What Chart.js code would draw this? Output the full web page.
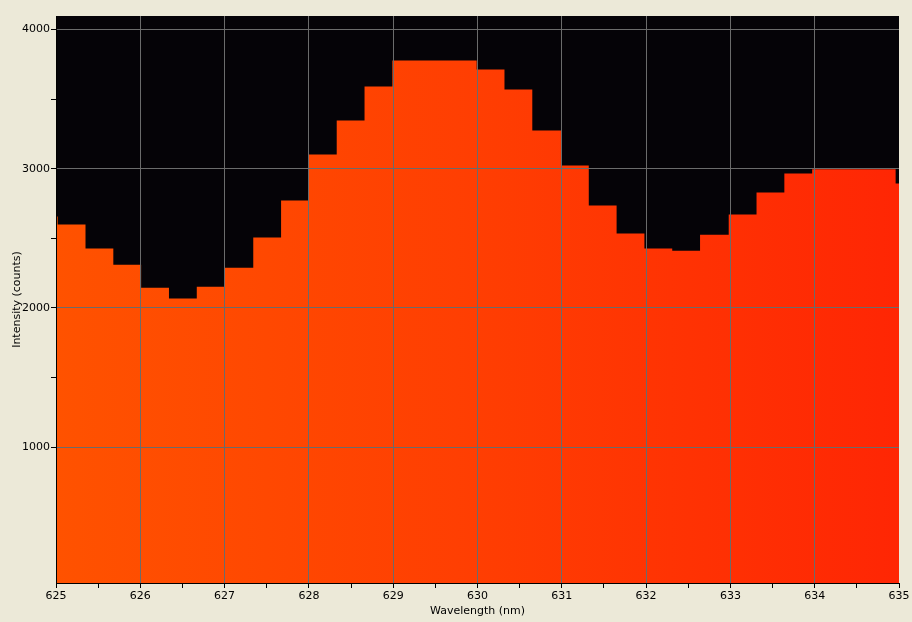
<!DOCTYPE html>
<html>
<head>
<meta charset="utf-8">
<script src="https://cdn.jsdelivr.net/npm/chart.js@4/dist/chart.umd.min.js"></script>
<style>
  html, body { margin: 0; padding: 0; background: #ECE9D8; }
  canvas { display: block; }
</style>
</head>
<body>
<canvas id="c" width="912" height="622"></canvas>
<script>
// Bin left edges (nm) and intensities (counts)
const wavelengths = [624.68, 625.02, 625.35, 625.68, 626.01, 626.34, 626.67, 627.00, 627.34, 627.67,
  628.00, 628.33, 628.66, 628.99, 629.33, 629.66, 629.99, 630.32, 630.65, 630.99,
  631.32, 631.65, 631.98, 632.31, 632.64, 632.98, 633.31, 633.64, 633.97, 634.30,
  634.63, 634.96, 635.29];
const intensities = [2657, 2599, 2427, 2311, 2146, 2069, 2153, 2290, 2506, 2772,
  3103, 3347, 3592, 3779, 3779, 3779, 3714, 3570, 3275, 3024,
  2736, 2535, 2427, 2412, 2527, 2671, 2830, 2967, 2996, 2996,
  2996, 2895, 2895];
const xTicks = [625, 625.5, 626, 626.5, 627, 627.5, 628, 628.5, 629, 629.5, 630, 630.5,
  631, 631.5, 632, 632.5, 633, 633.5, 634, 634.5, 635];
const xLabels = [625, 626, 627, 628, 629, 630, 631, 632, 633, 634, 635];
const yTicks = [1000, 1500, 2000, 2500, 3000, 3500, 4000];
const yLabels = [1000, 2000, 3000, 4000];

const points = wavelengths.map((w, i) => ({ x: w, y: intensities[i] }));
const FONT = { family: 'DejaVu Sans', size: 11 };
const GRID = '#6b6b6b';
const CLEAR = 'rgba(0,0,0,0)';

const plotBg = {
  id: 'plotBg',
  beforeDraw(chart) {
    const { ctx, chartArea: a } = chart;
    ctx.save();
    ctx.fillStyle = '#050307';
    ctx.fillRect(a.left, a.top, a.right - a.left, a.bottom - a.top);
    ctx.restore();
  }
};

new Chart(document.getElementById('c'), {
  type: 'line',
  data: {
    datasets: [{
      data: points,
      stepped: 'before',
      borderWidth: 0,
      borderColor: CLEAR,
      pointRadius: 0,
      fill: 'start',
      backgroundColor: (context) => {
        const chart = context.chart;
        const a = chart.chartArea;
        if (!a) return 'rgb(255,70,0)';
        const g = chart.ctx.createLinearGradient(a.left, 0, a.right, 0);
        g.addColorStop(0, 'rgb(255,82,0)');
        g.addColorStop(0.5, 'rgb(255,62,2)');
        g.addColorStop(1, 'rgb(255,38,4)');
        return g;
      }
    }]
  },
  options: {
    responsive: false,
    animation: false,
    events: [],
    layout: { padding: { left: 0, top: 16, right: 13, bottom: 0 } },
    plugins: { legend: { display: false }, tooltip: { enabled: false } },
    scales: {
      x: {
        type: 'linear',
        min: 625,
        max: 635,
        afterBuildTicks: s => { s.ticks = xTicks.map(v => ({ value: v })); },
        afterFit: s => { s.height = 39; },
        border: { display: true, color: '#000', width: 1, z: 2 },
        grid: {
          z: 1,
          color: c => (xLabels.includes(c.tick.value) && c.tick.value !== 625 && c.tick.value !== 635) ? GRID : CLEAR,
          tickColor: '#000',
          tickLength: 5,
          lineWidth: 1
        },
        ticks: {
          z: 2,
          autoSkip: false,
          maxRotation: 0,
          padding: 2,
          color: '#000',
          font: FONT,
          callback: v => xLabels.includes(v) ? String(v) : ''
        },
        title: {
          display: true,
          text: 'Wavelength (nm)',
          color: '#000',
          font: FONT,
          padding: { top: 0, bottom: 4.5 }
        }
      },
      y: {
        type: 'linear',
        min: 24,
        max: 4098,
        afterBuildTicks: s => { s.ticks = yTicks.map(v => ({ value: v })); },
        afterFit: s => { s.width = 56; },
        border: { display: true, color: '#000', width: 1, z: 2 },
        grid: {
          z: 1,
          color: c => yLabels.includes(c.tick.value) ? GRID : CLEAR,
          tickColor: '#000',
          tickLength: 5,
          lineWidth: 1
        },
        ticks: {
          z: 2,
          autoSkip: false,
          padding: 1,
          color: '#000',
          font: FONT,
          callback: v => yLabels.includes(v) ? String(v) : ''
        },
        title: {
          display: true,
          text: 'Intensity (counts)',
          color: '#000',
          font: FONT,
          padding: { top: 10.5, bottom: 0 }
        }
      }
    }
  },
  plugins: [plotBg]
});
</script>
</body>
</html>
